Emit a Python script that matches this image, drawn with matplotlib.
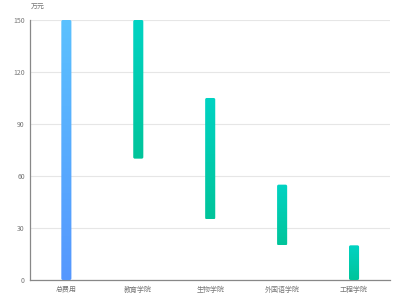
import matplotlib.pyplot as plt
import numpy as np
from matplotlib.colors import LinearSegmentedColormap
from matplotlib.patches import FancyBboxPatch

plt.rcParams['font.family'] = ['Noto Sans CJK SC', 'DejaVu Sans']

categories = ['总费用', '教育学院', '生物学院', '外国语学院', '工程学院']
bottoms = [0, 70, 35, 20, 0]
tops = [150, 150, 105, 55, 20]
y_ticks = [0, 30, 60, 90, 120, 150]

blue_cmap = LinearSegmentedColormap.from_list('blue', ['#5597fe', '#5bc1fe'])
green_cmap = LinearSegmentedColormap.from_list('green', ['#00c49a', '#00d3c3'])

fig = plt.figure(figsize=(4, 3), dpi=100)
ax = fig.add_axes([0.076, 0.0667, 0.899, 0.8667])
ax.set_xlim(-0.5, len(categories) - 0.5)
ax.set_ylim(0, 150)

# pixels per data unit, to keep the corner rounding circular
bbox = ax.get_window_extent()
aspect = (bbox.width / len(categories)) / (bbox.height / 150)

bar_w = 0.14
grad = np.linspace(0, 1, 256).reshape(-1, 1)
for i, (b, t) in enumerate(zip(bottoms, tops)):
    cmap = blue_cmap if i == 0 else green_cmap
    patch = FancyBboxPatch((i - bar_w / 2, b), bar_w, t - b,
                           boxstyle='round,pad=0,rounding_size=0.022',
                           mutation_aspect=aspect, transform=ax.transData,
                           facecolor='none', edgecolor='none')
    ax.add_patch(patch)
    im = ax.imshow(grad, cmap=cmap, origin='lower', aspect='auto',
                   extent=[i - bar_w / 2, i + bar_w / 2, b, t], zorder=3)
    im.set_clip_path(patch)

ax.set_xlim(-0.5, len(categories) - 0.5)
ax.set_ylim(0, 150)
ax.set_xticks(range(len(categories)))
ax.set_xticklabels(categories)
ax.set_yticks(y_ticks)
ax.grid(axis='y', color='#e6e6e6', linewidth=0.8, zorder=0)
ax.set_axisbelow(True)

for side in ['top', 'right']:
    ax.spines[side].set_visible(False)
for side in ['left', 'bottom']:
    ax.spines[side].set_color('#888888')
    ax.spines[side].set_linewidth(0.9)

ax.tick_params(axis='both', length=0, labelsize=5, labelcolor='#777777', pad=4)
ax.text(0.0, 1.035, '万元', transform=ax.transAxes, fontsize=5, color='#777777',
        ha='left', va='bottom')

fig.savefig('out.png', dpi=100)
